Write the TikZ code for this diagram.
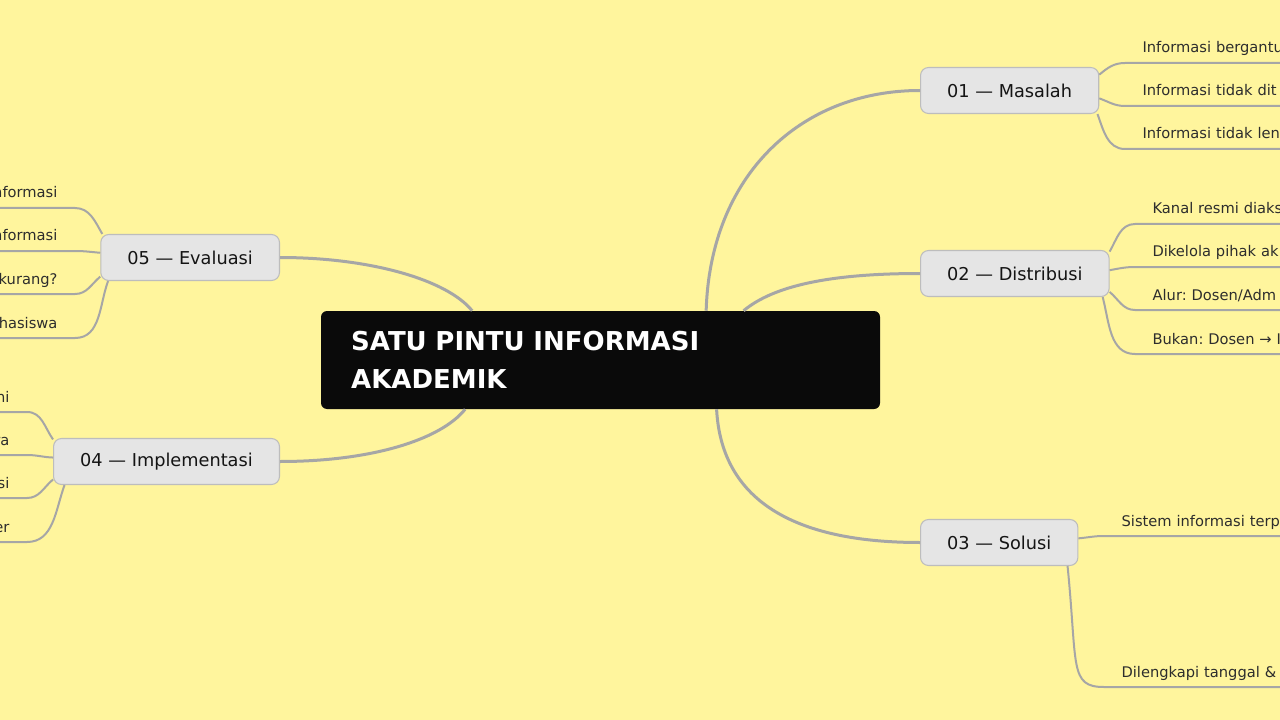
\documentclass[tikz,border=0pt]{standalone}
\usepackage{fontspec}
\setmainfont{DejaVu Sans}
\frenchspacing
\definecolor{paper}{HTML}{FFF59D}
\definecolor{ink}{HTML}{0A0A0A}
\definecolor{boxfill}{HTML}{E5E5E5}
\definecolor{boxline}{HTML}{BDBDBD}
\definecolor{wire}{HTML}{A6A6A6}
\definecolor{leaftext}{HTML}{2D2D2D}

\begin{document}
\begin{tikzpicture}
            [x=0.75pt, y=-0.75pt,
            title/.style={fill=ink, text=white, rounded corners=4.5pt, minimum width=419.25pt, minimum height=73.5pt,
              text width=374pt, inner xsep=22.6pt, align=left, font=\fontsize{19.5}{28.5}\selectfont\bfseries},
            branch/.style={fill=boxfill, draw=boxline, line width=0.8pt, rounded corners=6pt, minimum height=34.5pt,
              inner xsep=20pt, text=black!92, font=\fontsize{13.3}{16}\selectfont},
            leafr/.style={anchor=south west, text width=140pt, align=left, inner xsep=13pt, inner ysep=4.8pt,
              text height=8.5pt, text depth=2.5pt, text=leaftext, font=\fontsize{11}{13}\selectfont},
            leafl/.style={leafr, anchor=south east, align=right},
            trunk/.style={draw=wire, line width=2.25pt},
            twig/.style={draw=wire, line width=1.5pt}]

            % Canvas
            \useasboundingbox (0,0) rectangle (1280,720);
            \clip (0,0) rectangle (1280,720);
            \fill[paper] (0,0) rectangle (1280,720);

            % Centre and main topics
            \node[title] (title) at (600.5,360) {SATU PINTU INFORMASI\\AKADEMIK};
            \node[branch, anchor=west] (masalah) at (920,90.5) {01 — Masalah};
            \node[branch, anchor=west] (distribusi) at (920,273.5) {02 — Distribusi};
            \node[branch, anchor=west] (solusi) at (920,542.5) {03 — Solusi};
            \node[branch, anchor=east] (implementasi) at (280,461.5) {04 — Implementasi};
            \node[branch, anchor=east] (evaluasi) at (280,257.5) {05 — Evaluasi};

            % Sub topics, right side
            \node[leafr] (m1) at (1125,63) {Informasi bergantu};
            \node[leafr] (m2) at (1125,106) {Informasi tidak dit};
            \node[leafr] (m3) at (1125,149) {Informasi tidak len};
            \node[leafr] (d1) at (1135,224) {Kanal resmi diaks};
            \node[leafr] (d2) at (1135,267) {Dikelola pihak ak};
            \node[leafr] (d3) at (1135,310) {Alur: Dosen/Adm};
            \node[leafr] (d4) at (1135,354) {Bukan: Dosen → I};
            \node[leafr] (s1) at (1104,536) {Sistem informasi terp};
            \node[leafr] (s2) at (1104,687) {Dilengkapi tanggal \&};

            % Sub topics, left side
            \node[leafl] (e1) at (75,208) {nformasi};
            \node[leafl] (e2) at (75,251) {nformasi};
            \node[leafl] (e3) at (75,294) {kurang?};
            \node[leafl] (e4) at (75,338) {hasiswa};
            \node[leafl] (i1) at (27,412) {ni};
            \node[leafl] (i2) at (27,455) {ra};
            \node[leafl] (i3) at (27,498) {si};
            \node[leafl] (i4) at (27,542) {er};

            % Main branches
            \draw[trunk] (title.25.5) .. controls +(4,-135) and +(-120,0) .. (masalah.west);
            \draw[trunk] (title.19) .. controls +(30,-25) and +(-90,0) .. (distribusi.west);
            \draw[trunk] (title.-23.5) .. controls +(5,95) and +(-120,0) .. (solusi.west);
            \draw[trunk] (title.159.4) .. controls +(-25,-31) and +(90,0) .. (evaluasi.east);
            \draw[trunk] (title.200.6) .. controls +(-25,31) and +(90,0) .. (implementasi.east);

            % Twigs with underlines
            \draw[twig] (masalah.10) to[out=40, in=180] (m1.south west) -- (m1.south east);
            \draw[twig] (masalah.-5) to[out=-20, in=180] (m2.south west) -- (m2.south east);
            \draw[twig] (masalah.-15) to[out=-70, in=180] (m3.south west) -- (m3.south east);
            \draw[twig] (distribusi.13) to[out=60, in=180] (d1.south west) -- (d1.south east);
            \draw[twig] (distribusi.2) to[out=10, in=180] (d2.south west) -- (d2.south east);
            \draw[twig] (distribusi.-11) to[out=-40, in=180] (d3.south west) -- (d3.south east);
            \draw[twig] (distribusi.-15) to[out=-75, in=180] (d4.south west) -- (d4.south east);
            \draw[twig] (solusi.3) to[out=5, in=180] (s1.south west) -- (s1.south east);
            \draw[twig] (solusi.-19) .. controls +(10,100) and +(-35,0) .. (s2.south west) -- (s2.south east);
            \draw[twig] (evaluasi.165) to[out=120, in=0] (e1.south east) -- (e1.south west);
            \draw[twig] (evaluasi.177) to[out=175, in=0] (e2.south east) -- (e2.south west);
            \draw[twig] (evaluasi.192) to[out=220, in=0] (e3.south east) -- (e3.south west);
            \draw[twig] (evaluasi.196) to[out=250, in=0] (e4.south east) -- (e4.south west);
            \draw[twig] (implementasi.169) to[out=125, in=0] (i1.south east) -- (i1.south west);
            \draw[twig] (implementasi.178) to[out=178, in=0] (i2.south east) -- (i2.south west);
            \draw[twig] (implementasi.189) to[out=220, in=0] (i3.south east) -- (i3.south west);
            \draw[twig] (implementasi.193) to[out=250, in=0] (i4.south east) -- (i4.south west);

        \end{tikzpicture}
\end{document}
